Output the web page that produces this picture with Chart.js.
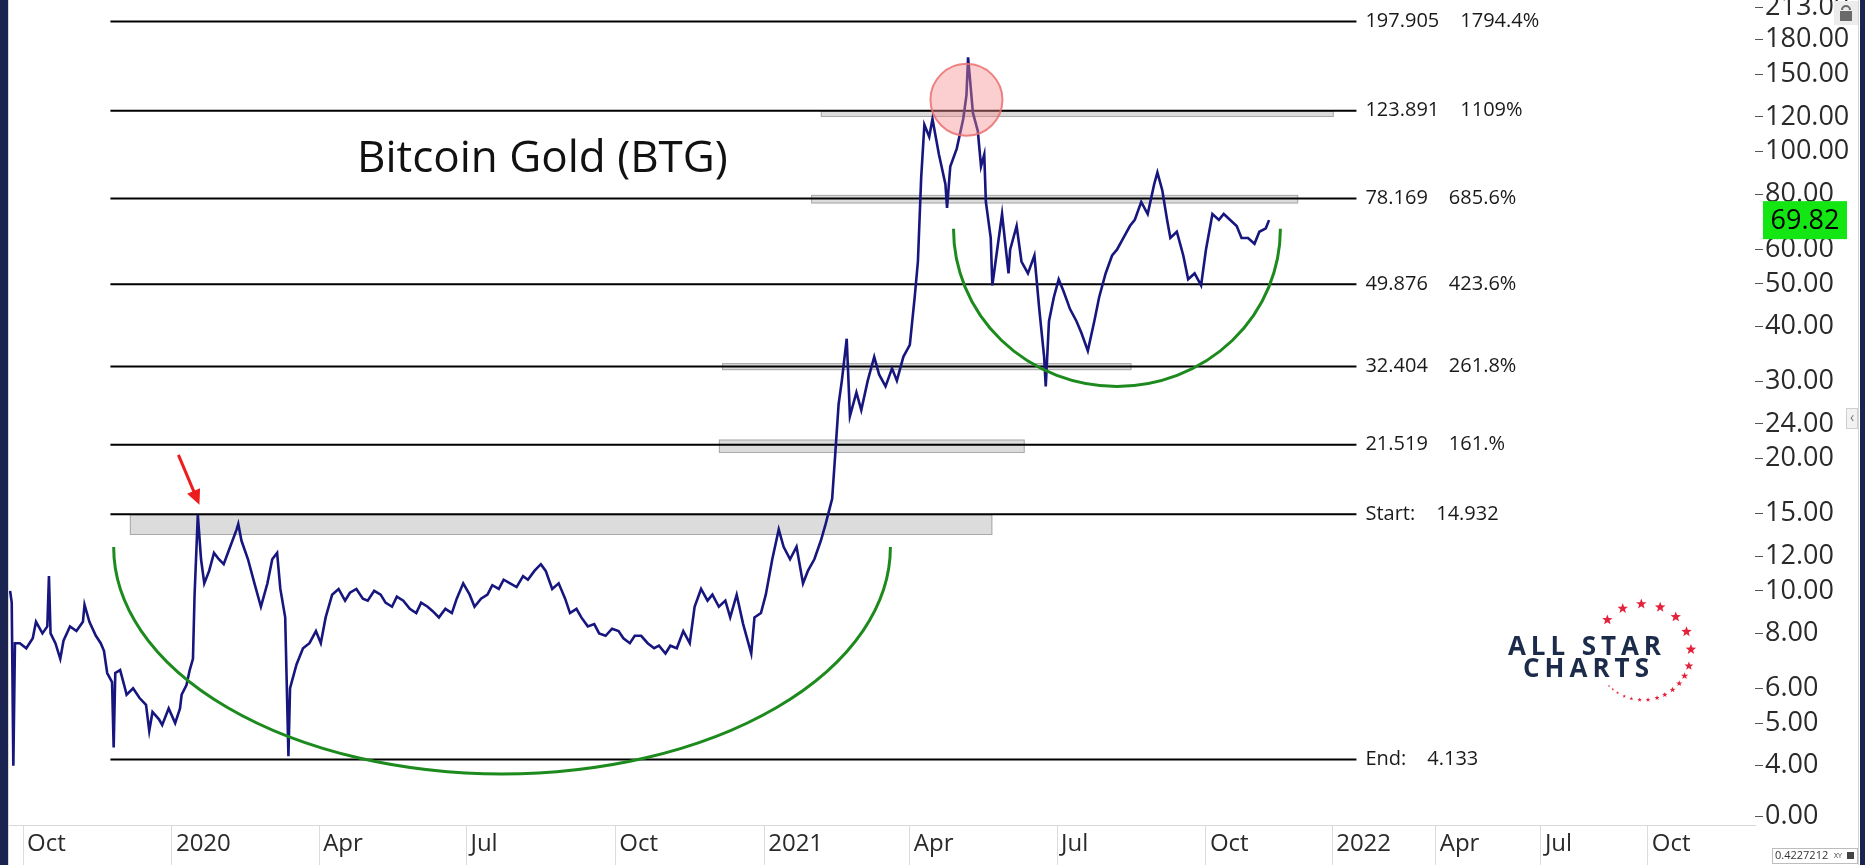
<!DOCTYPE html>
<html>
<head>
<meta charset="utf-8">
<script src="https://cdn.jsdelivr.net/npm/chart.js@4.4.0/dist/chart.umd.min.js"></script>
<style>
    html, body { margin: 0; padding: 0; background: #fff; }
    #wrap { width: 1865px; height: 865px; }
</style>
</head>
<body>
<div id="wrap"><canvas id="chart" width="1865" height="865"></canvas></div>
<script>
// --- data ---
const priceDates = [
    '2019-09-23', '2019-09-24', '2019-09-25', '2019-09-26', '2019-09-29', '2019-10-03', '2019-10-07', '2019-10-09',
    '2019-10-13', '2019-10-16', '2019-10-17', '2019-10-18', '2019-10-21', '2019-10-24', '2019-10-26', '2019-10-30',
    '2019-11-03', '2019-11-07', '2019-11-08', '2019-11-11', '2019-11-15', '2019-11-18', '2019-11-20', '2019-11-22',
    '2019-11-25', '2019-11-26', '2019-11-27', '2019-11-30', '2019-12-03', '2019-12-04', '2019-12-08', '2019-12-12',
    '2019-12-16', '2019-12-18', '2019-12-20', '2019-12-24', '2019-12-26', '2019-12-30', '2020-01-03', '2020-01-06',
    '2020-01-07', '2020-01-10', '2020-01-12', '2020-01-14', '2020-01-15', '2020-01-17', '2020-01-19', '2020-01-21',
    '2020-01-24', '2020-01-27', '2020-01-30', '2020-02-02', '2020-02-06', '2020-02-10', '2020-02-11', '2020-02-13',
    '2020-02-17', '2020-02-21', '2020-02-25', '2020-02-29', '2020-03-03', '2020-03-06', '2020-03-08', '2020-03-11',
    '2020-03-13', '2020-03-14', '2020-03-18', '2020-03-22', '2020-03-26', '2020-03-30', '2020-04-02', '2020-04-05',
    '2020-04-09', '2020-04-13', '2020-04-17', '2020-04-20', '2020-04-24', '2020-04-28', '2020-05-01', '2020-05-05',
    '2020-05-09', '2020-05-12', '2020-05-16', '2020-05-19', '2020-05-23', '2020-05-27', '2020-05-31', '2020-06-03',
    '2020-06-07', '2020-06-10', '2020-06-14', '2020-06-18', '2020-06-22', '2020-06-25', '2020-06-29', '2020-07-03',
    '2020-07-06', '2020-07-10', '2020-07-14', '2020-07-17', '2020-07-21', '2020-07-24', '2020-07-28', '2020-08-01',
    '2020-08-05', '2020-08-08', '2020-08-12', '2020-08-16', '2020-08-19', '2020-08-23', '2020-08-27', '2020-08-31',
    '2020-09-03', '2020-09-07', '2020-09-10', '2020-09-14', '2020-09-18', '2020-09-21', '2020-09-25', '2020-09-29',
    '2020-10-03', '2020-10-06', '2020-10-10', '2020-10-13', '2020-10-17', '2020-10-21', '2020-10-25', '2020-10-28',
    '2020-11-01', '2020-11-04', '2020-11-08', '2020-11-12', '2020-11-16', '2020-11-19', '2020-11-23', '2020-11-27',
    '2020-11-30', '2020-12-04', '2020-12-08', '2020-12-11', '2020-12-15', '2020-12-19', '2020-12-24', '2020-12-26',
    '2020-12-30', '2021-01-02', '2021-01-06', '2021-01-10', '2021-01-13', '2021-01-17', '2021-01-21', '2021-01-25',
    '2021-01-28', '2021-02-01', '2021-02-05', '2021-02-08', '2021-02-12', '2021-02-14', '2021-02-16', '2021-02-18',
    '2021-02-21', '2021-02-23', '2021-02-27', '2021-03-02', '2021-03-06', '2021-03-10', '2021-03-13', '2021-03-17',
    '2021-03-21', '2021-03-24', '2021-03-28', '2021-04-01', '2021-04-04', '2021-04-06', '2021-04-08', '2021-04-10',
    '2021-04-13', '2021-04-15', '2021-04-19', '2021-04-23', '2021-04-24', '2021-04-26', '2021-04-30', '2021-05-04',
    '2021-05-06', '2021-05-07', '2021-05-10', '2021-05-13', '2021-05-15', '2021-05-17', '2021-05-18', '2021-05-21',
    '2021-05-22', '2021-05-24', '2021-05-28', '2021-06-01', '2021-06-02', '2021-06-06', '2021-06-09', '2021-06-13',
    '2021-06-17', '2021-06-20', '2021-06-23', '2021-06-24', '2021-06-26', '2021-06-29', '2021-07-02', '2021-07-05',
    '2021-07-09', '2021-07-13', '2021-07-16', '2021-07-20', '2021-07-24', '2021-07-27', '2021-07-31', '2021-08-04',
    '2021-08-07', '2021-08-11', '2021-08-15', '2021-08-18', '2021-08-22', '2021-08-26', '2021-08-30', '2021-09-01',
    '2021-09-04', '2021-09-07', '2021-09-09', '2021-09-13', '2021-09-17', '2021-09-20', '2021-09-24', '2021-09-28',
    '2021-10-01', '2021-10-05', '2021-10-09', '2021-10-12', '2021-10-16', '2021-10-20', '2021-10-23', '2021-10-27',
    '2021-10-31', '2021-11-03', '2021-11-07', '2021-11-09'
];
const priceValues = [
    10.0, 9.4, 4.0, 7.6, 7.6, 7.4, 7.8, 8.5,
    8.0, 8.3, 10.8, 8.0, 7.6, 7.0, 7.7, 8.3,
    8.1, 8.5, 9.3, 8.5, 7.9, 7.6, 7.3, 6.5,
    6.2, 4.4, 6.5, 6.6, 6.0, 5.8, 6.0, 5.7,
    5.5, 4.8, 5.3, 5.1, 4.95, 5.4, 5.0, 5.4,
    5.8, 6.1, 6.6, 7.0, 9.8, 14.9, 11.8, 10.4,
    11.1, 12.2, 11.8, 11.5, 12.6, 13.8, 14.2, 13.0,
    11.8, 10.4, 9.2, 10.4, 11.8, 12.2, 10.1, 8.7,
    4.2, 6.0, 6.8, 7.4, 7.6, 8.1, 7.6, 8.7,
    9.8, 10.1, 9.5, 9.9, 10.1, 9.6, 9.5, 10.0,
    9.8, 9.4, 9.2, 9.7, 9.5, 9.1, 8.9, 9.4,
    9.2, 9.0, 8.7, 9.1, 8.9, 9.6, 10.4, 9.8,
    9.2, 9.6, 9.8, 10.3, 10.1, 10.6, 10.4, 10.2,
    10.8, 10.6, 11.1, 11.5, 11.1, 10.1, 10.4, 9.6,
    8.9, 9.1, 8.7, 8.3, 8.4, 8.0, 7.9, 8.2,
    8.1, 7.8, 7.6, 7.9, 7.9, 7.6, 7.4, 7.5,
    7.2, 7.5, 7.4, 8.1, 7.6, 9.2, 10.1, 9.5,
    9.8, 9.2, 9.5, 8.7, 9.8, 8.4, 7.2, 8.7,
    8.9, 9.8, 11.8, 13.8, 12.6, 11.8, 12.6, 10.4,
    11.1, 11.8, 13.0, 14.2, 16.2, 20.7, 26.6, 30.1,
    37.5, 25.0, 28.3, 25.8, 30.1, 34.1, 31.1, 29.2,
    32.1, 30.1, 34.1, 36.3, 46.6, 56.2, 86.9, 115.1,
    108.1, 118.7, 98.5, 84.3, 74.4, 92.5, 101.6, 118.7,
    134.5, 164, 122.5, 111.5, 92.5, 98.5, 76.8, 63.6,
    49.6, 56.2, 72.1, 52.8, 59.8, 67.7, 56.2, 52.8,
    58.0, 43.8, 34.1, 29.2, 41.1, 46.6, 51.2, 48.1,
    43.8, 41.1, 38.7, 35.2, 41.1, 46.6, 52.8, 58.0,
    59.8, 63.6, 67.7, 69.9, 76.8, 72.1, 84.3, 89.7,
    81.7, 69.9, 63.6, 65.7, 58.0, 51.2, 52.8, 49.6,
    59.8, 72.1, 69.9, 72.1, 69.9, 67.7, 63.6, 63.6,
    61.7, 65.7, 66.9, 69.82
];
const lastPrice = 69.82;

const fibLevels = [197.905, 123.891, 78.169, 49.876, 32.404, 21.519, 14.932, 4.133];
const fibNames = ['197.905', '123.891', '78.169', '49.876', '32.404', '21.519', 'Start:', 'End:'];
const fibTags = ['1794.4%', '1109%', '685.6%', '423.6%', '261.8%', '161.%', '14.932', '4.133'];
const fibSpan = ['2019-11-24', '2022-01-24'];

const bandStart = ['2019-12-06', '2020-12-04', '2020-12-06', '2021-01-30', '2021-02-05'];
const bandEnd = ['2021-05-22', '2021-06-11', '2021-08-16', '2021-12-03', '2022-01-04'];
const bandHigh = [14.932, 22.1, 33.0, 79.7, 123.891];
const bandLow = [13.4, 20.6, 31.8, 76.2, 119.9];

// arcs: left / right dates, price at the rim, price at the bottom
const arcLeft = ['2019-11-26', '2021-04-28'];
const arcRight = ['2021-03-20', '2021-11-18'];
const arcRim = [12.58, 66.7];
const arcBottom = [3.83, 29.2];

const circleDate = '2021-05-06';
const circlePrice = 131.2;
const arrowFrom = { date: '2020-01-05', price: 20.4 };
const arrowTo = { date: '2020-01-18', price: 15.7 };

const xTickDates = ['2019-10-01', '2020-01-01', '2020-04-01', '2020-07-01', '2020-10-01', '2021-01-01', '2021-04-01',
    '2021-07-01', '2021-10-01', '2022-01-03', '2022-04-01', '2022-07-01', '2022-10-03'];
const xTickLabels = ['Oct', '2020', 'Apr', 'Jul', 'Oct', '2021', 'Apr', 'Jul', 'Oct', '2022', 'Apr', 'Jul', 'Oct'];
const yTickValues = [3.06, 4, 5, 6, 8, 10, 12, 15, 20, 24, 30, 40, 50, 60, 80, 100, 120, 150, 180, 213];
const yTickLabels = ['0.00', '4.00', '5.00', '6.00', '8.00', '10.00', '12.00', '15.00', '20.00', '24.00', '30.00',
    '40.00', '50.00', '60.00', '80.00', '100.00', '120.00', '150.00', '180.00', '213.00'];

// --- bar index: one slot per day while there is data, weekdays only in the future space ---
const DAY = 86400000;
const originTime = Date.parse('2019-10-01');
const lastBarTime = Date.parse(priceDates[priceDates.length - 1]);

function barIndex ( s ) {
    const t = Date.parse( s );
    if ( t <= lastBarTime ) return ( t - originTime ) / DAY;
    let idx = ( lastBarTime - originTime ) / DAY;
    for ( let d = lastBarTime + DAY; d <= t; d += DAY ) {
        const wd = new Date( d ).getUTCDay();
        if ( wd !== 0 && wd !== 6 ) idx++;
    }
    return idx;
}

const FONT = '"Open Sans", "Noto Sans", sans-serif';
const NAVY = '#1b2350';

function starPath ( ctx, cx, cy, r ) {
    ctx.beginPath();
    for ( let i = 0; i < 10; i++ ) {
        const a = -Math.PI / 2 + i * Math.PI / 5;
        const rr = i % 2 === 0 ? r : r * 0.42;
        ctx.lineTo( cx + rr * Math.cos( a ), cy + rr * Math.sin( a ) );
    }
    ctx.closePath();
}

const overlays = {
    id: 'overlays',
    beforeDatasetsDraw ( chart ) {
        const { ctx, scales: { x, y } } = chart;
        ctx.save();
        bandLow.forEach( ( lo, i ) => {
            const x1 = x.getPixelForValue( barIndex( bandStart[ i ] ) );
            const x2 = x.getPixelForValue( barIndex( bandEnd[ i ] ) );
            const y1 = y.getPixelForValue( bandHigh[ i ] );
            const y2 = y.getPixelForValue( lo );
            ctx.fillStyle = '#dcdcdc';
            ctx.fillRect( x1, y1, x2 - x1, y2 - y1 );
            ctx.strokeStyle = '#a9a9a9';
            ctx.lineWidth = 1;
            ctx.strokeRect( x1 + 0.5, y1 + 0.5, x2 - x1 - 1, y2 - y1 - 1 );
        } );
        ctx.restore();
    },
    afterDatasetsDraw ( chart ) {
        const { ctx, scales: { x, y } } = chart;
        ctx.save();

        // fib labels
        const lx = x.getPixelForValue( barIndex( fibSpan[ 1 ] ) ) + 9;
        ctx.font = '20px ' + FONT;
        ctx.fillStyle = '#1a1a1a';
        ctx.textBaseline = 'middle';
        fibLevels.forEach( ( v, i ) => {
            const py = y.getPixelForValue( v );
            ctx.fillText( fibNames[ i ], lx, py );
            ctx.fillText( fibTags[ i ], lx + ctx.measureText( fibNames[ i ] ).width + 21, py );
        } );

        // green arcs
        ctx.strokeStyle = '#1d8a1d';
        ctx.lineWidth = 3;
        arcLeft.forEach( ( d, i ) => {
            const x1 = x.getPixelForValue( barIndex( d ) );
            const x2 = x.getPixelForValue( barIndex( arcRight[ i ] ) );
            const yr = y.getPixelForValue( arcRim[ i ] );
            const yb = y.getPixelForValue( arcBottom[ i ] );
            ctx.beginPath();
            ctx.ellipse( ( x1 + x2 ) / 2, yr, ( x2 - x1 ) / 2, yb - yr, 0, 0, Math.PI );
            ctx.stroke();
        } );

        // pink circle at the top
        const cx = x.getPixelForValue( barIndex( circleDate ) );
        const cy = y.getPixelForValue( circlePrice );
        ctx.beginPath();
        ctx.arc( cx, cy, 36, 0, Math.PI * 2 );
        ctx.fillStyle = 'rgba(245, 140, 140, 0.42)';
        ctx.fill();
        ctx.strokeStyle = 'rgba(235, 110, 110, 0.85)';
        ctx.lineWidth = 2;
        ctx.stroke();

        // red arrow
        const ax1 = x.getPixelForValue( barIndex( arrowFrom.date ) );
        const ay1 = y.getPixelForValue( arrowFrom.price );
        const ax2 = x.getPixelForValue( barIndex( arrowTo.date ) );
        const ay2 = y.getPixelForValue( arrowTo.price );
        const ang = Math.atan2( ay2 - ay1, ax2 - ax1 );
        ctx.strokeStyle = '#ee1d1d';
        ctx.fillStyle = '#ee1d1d';
        ctx.lineWidth = 3;
        ctx.beginPath();
        ctx.moveTo( ax1, ay1 );
        ctx.lineTo( ax2 - 10 * Math.cos( ang ), ay2 - 10 * Math.sin( ang ) );
        ctx.stroke();
        ctx.beginPath();
        ctx.moveTo( ax2, ay2 );
        ctx.lineTo( ax2 - 15 * Math.cos( ang ) + 7 * Math.sin( ang ), ay2 - 15 * Math.sin( ang ) - 7 * Math.cos( ang ) );
        ctx.lineTo( ax2 - 15 * Math.cos( ang ) - 7 * Math.sin( ang ), ay2 - 15 * Math.sin( ang ) + 7 * Math.cos( ang ) );
        ctx.closePath();
        ctx.fill();

        // title
        ctx.fillStyle = '#111';
        ctx.font = '44px ' + FONT;
        ctx.textBaseline = 'alphabetic';
        ctx.fillText( 'Bitcoin Gold (BTG)', 357, 172 );

        // logo
        ctx.fillStyle = '#1c2b4a';
        ctx.font = 'bold 26px ' + FONT;
        const spread = ( txt, x0, width, py ) => {
            const ws = [ ...txt ].map( c => ctx.measureText( c ).width );
            const gap = ( width - ws.reduce( ( a, b ) => a + b, 0 ) ) / ( txt.length - 1 );
            let px = x0;
            [ ...txt ].forEach( ( c, i ) => { ctx.fillText( c, px, py ); px += ws[ i ] + gap; } );
        };
        spread( 'ALL STAR', 1508, 153, 655 );
        spread( 'CHARTS', 1523, 126, 677 );
        const ring = [ [ -138, 5.5 ], [ -115, 5.5 ], [ -92, 5.5 ], [ -69, 5.5 ], [ -47, 5.5 ], [ -25, 5.5 ], [ -3, 5.5 ], [ 17, 4.6 ],
            [ 30, 3.8 ], [ 41, 3.2 ], [ 52, 3 ], [ 63, 2.8 ], [ 73, 2.6 ], [ 84, 2.5 ], [ 94, 2.3 ], [ 104, 2 ],
            [ 113, 1.8 ], [ 122, 1.6 ], [ 129, 1.4 ], [ 135, 1.2 ] ];
        ctx.fillStyle = '#e3223b';
        ring.forEach( ( [ deg, r ] ) => {
            const a = deg * Math.PI / 180;
            starPath( ctx, 1643 + 48 * Math.cos( a ), 652 + 48 * Math.sin( a ), r );
            ctx.fill();
        } );
        ctx.restore();
    },
    afterDraw ( chart ) {
        const { ctx, scales: { y } } = chart;
        ctx.save();
        // last price tag
        const py = y.getPixelForValue( lastPrice );
        ctx.fillStyle = '#14e614';
        ctx.fillRect( 1763, py - 19, 84, 38 );
        ctx.fillStyle = '#000';
        ctx.font = '27px ' + FONT;
        ctx.textAlign = 'center';
        ctx.textBaseline = 'middle';
        ctx.fillText( lastPrice.toFixed( 2 ), 1805, py + 1 );

        // window frame bits
        ctx.fillStyle = NAVY;
        ctx.fillRect( 0, 0, 8, 865 );
        ctx.fillRect( 1860, 0, 5, 865 );
        ctx.fillStyle = '#d6d6d6';
        ctx.fillRect( 1858, 0, 1, 865 );
        ctx.fillRect( 8, 0, 1, 865 );

        // lock button
        ctx.fillStyle = '#ececec';
        ctx.fillRect( 1834, 1, 24, 24 );
        ctx.fillStyle = '#6a6a6a';
        ctx.fillRect( 1840, 11, 12, 10 );
        ctx.strokeStyle = '#6a6a6a';
        ctx.lineWidth = 2;
        ctx.beginPath();
        ctx.arc( 1846, 10, 4, Math.PI, 0 );
        ctx.stroke();

        // collapse tab
        ctx.fillStyle = '#f2f2f2';
        ctx.strokeStyle = '#cfcfcf';
        ctx.lineWidth = 1;
        ctx.fillRect( 1846.5, 408.5, 11, 20 );
        ctx.strokeRect( 1846.5, 408.5, 11, 20 );
        ctx.fillStyle = '#777';
        ctx.font = '14px ' + FONT;
        ctx.fillText( '‹', 1852, 418 );

        // scale readout box
        ctx.fillStyle = '#fff';
        ctx.strokeStyle = '#bdbdbd';
        ctx.fillRect( 1772.5, 848.5, 85, 15 );
        ctx.strokeRect( 1772.5, 848.5, 85, 15 );
        ctx.fillStyle = '#333';
        ctx.font = '11px ' + FONT;
        ctx.textAlign = 'left';
        ctx.fillText( '0.4227212', 1775, 856 );
        ctx.font = '7px ' + FONT;
        ctx.fillText( 'XY', 1834, 856 );
        ctx.fillStyle = '#444';
        ctx.fillRect( 1847, 852, 7, 7 );
        ctx.restore();
    }
};

const priceSeries = priceDates.map( ( d, i ) => ( { x: barIndex( d ), y: priceValues[ i ] } ) );
const fibSets = fibLevels.map( v => ( {
    data: fibSpan.map( d => ( { x: barIndex( d ), y: v } ) ),
    borderColor: '#000',
    borderWidth: 2,
    pointRadius: 0
} ) );

new Chart( document.getElementById( 'chart' ), {
    type: 'line',
    data: {
        datasets: [ {
            data: priceSeries,
            borderColor: '#16167e',
            borderWidth: 2.6,
            pointRadius: 0,
            tension: 0
        }, ...fibSets ]
    },
    options: {
        responsive: false,
        animation: false,
        events: [],
        layout: { padding: { left: 8, right: 5, top: 0, bottom: 0 } },
        plugins: { legend: { display: false }, tooltip: { enabled: false } },
        scales: {
            x: {
                type: 'linear',
                bounds: 'data',
                min: -9.3,
                max: 1070.3,
                afterBuildTicks ( scale ) {
                    scale.ticks = xTickDates.map( d => ( { value: barIndex( d ) } ) );
                },
                afterFit ( scale ) {
                    scale.height = 40;
                    scale.paddingLeft = 0;
                    scale.paddingRight = 0;
                },
                grid: {
                    drawOnChartArea: false,
                    drawTicks: true,
                    tickLength: 40,
                    color: '#dcdcdc',
                    lineWidth: 1
                },
                border: { display: true, color: '#d8d8d8', width: 1 },
                ticks: {
                    autoSkip: false,
                    maxRotation: 0,
                    align: 'start',
                    labelOffset: 4,
                    padding: -35,
                    color: '#2a2a2a',
                    font: { family: FONT, size: 24 },
                    callback ( value, index ) { return xTickLabels[ index ]; }
                }
            },
            y: {
                type: 'logarithmic',
                position: 'right',
                bounds: 'data',
                min: 2.93,
                max: 221.4,
                afterBuildTicks ( scale ) {
                    scale.ticks = yTickValues.map( v => ( { value: v } ) );
                },
                afterFit ( scale ) {
                    scale.width = 105;
                    scale.paddingTop = 0;
                    scale.paddingBottom = 0;
                },
                grid: {
                    drawOnChartArea: false,
                    drawTicks: true,
                    tickLength: 8,
                    color: '#555',
                    lineWidth: 1
                },
                border: { display: false },
                ticks: {
                    autoSkip: false,
                    padding: 2,
                    color: '#2a2a2a',
                    font: { family: FONT, size: 27 },
                    callback ( value, index ) { return yTickLabels[ index ]; }
                }
            }
        }
    },
    plugins: [ overlays ]
} );
</script>
</body>
</html>
